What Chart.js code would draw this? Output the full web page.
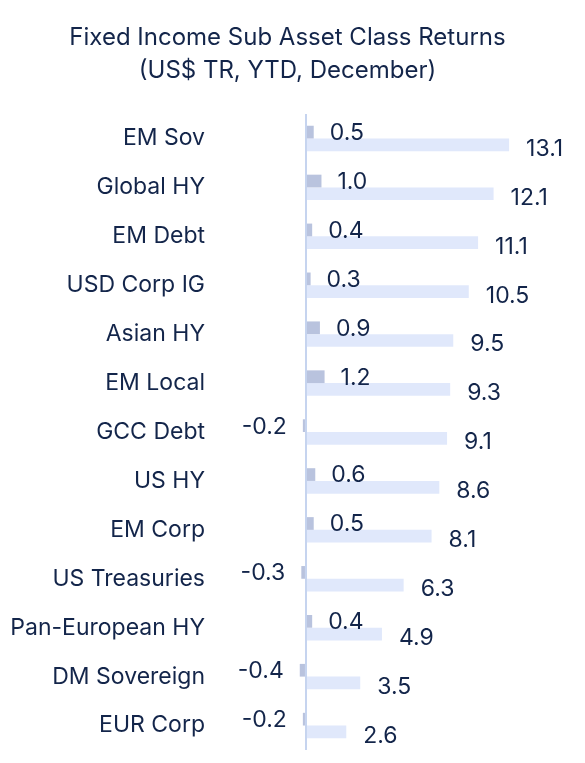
<!DOCTYPE html>
<html lang="en">
  <head>
    <meta charset="UTF-8" />
    <title>Fixed Income Sub Asset Class Returns</title>
    <script src="https://cdn.jsdelivr.net/npm/chart.js"></script>
    <style>
      html, body { margin: 0; padding: 0; background: #fff; }
      #chart-container { width: 585px; height: 763px; position: relative; }
    </style>
  </head>
  <body>
    <div id="chart-container">
      <canvas id="my-chart"></canvas>
    </div>

    <script>
      const categories = [
        "EM Sov", "Global HY", "EM Debt", "USD Corp IG", "Asian HY", "EM Local", "GCC Debt",
        "US HY", "EM Corp", "US Treasuries", "Pan-European HY", "DM Sovereign", "EUR Corp",
      ];
      const mtdValues = [0.5, 1.0, 0.4, 0.3, 0.9, 1.2, -0.2, 0.6, 0.5, -0.3, 0.4, -0.4, -0.2];
      const ytdValues = [13.1, 12.1, 11.1, 10.5, 9.5, 9.3, 9.1, 8.6, 8.1, 6.3, 4.9, 3.5, 2.6];

      const textColor = "#13254a";
      const fontFamily = "Inter, 'Open Sans', sans-serif";

      // draws the value next to each bar end
      const valueLabels = {
        id: "valueLabels",
        afterDatasetsDraw(chart) {
          const ctx = chart.ctx;
          ctx.save();
          ctx.font = "400 23px " + fontFamily;
          ctx.fillStyle = textColor;
          ctx.textBaseline = "middle";
          chart.data.datasets.forEach((ds, i) => {
            const meta = chart.getDatasetMeta(i);
            meta.data.forEach((bar, j) => {
              const v = ds.data[j];
              const gap = i === 0 ? 16 : 17;
              const dy = i === 0 ? 1 : 4;
              if (v < 0) {
                ctx.textAlign = "right";
                ctx.fillText(v.toFixed(1), bar.x - gap, bar.y + dy);
              } else {
                ctx.textAlign = "left";
                ctx.fillText(v.toFixed(1), bar.x + gap, bar.y + dy);
              }
            });
          });
          ctx.restore();
        },
      };

      const ctx = document.getElementById("my-chart").getContext("2d");
      const myChart = new Chart(ctx, {
        type: "bar",
        data: {
          labels: categories,
          datasets: [
            {
              label: "MTD",
              data: mtdValues,
              backgroundColor: "#b9c3de",
              barPercentage: 1,
              categoryPercentage: 0.52,
            },
            {
              label: "YTD",
              data: ytdValues,
              backgroundColor: "#e0e8fb",
              barPercentage: 1,
              categoryPercentage: 0.52,
            },
          ],
        },
        options: {
          indexAxis: "y",
          responsive: true,
          maintainAspectRatio: false,
          animation: false,
          layout: { padding: { top: 21, bottom: 13, right: 10, left: 0 } },
          plugins: {
            legend: { display: false },
            tooltip: { enabled: false },
            title: {
              display: true,
              text: ["Fixed Income Sub Asset Class Returns", "(US$ TR, YTD, December)"],
              color: textColor,
              font: { family: fontFamily, size: 24, weight: "400", lineHeight: 1.375 },
              padding: { top: 0, bottom: 27 },
            },
          },
          scales: {
            x: {
              min: -6.06,
              max: 17.35,
              border: { display: false },
              ticks: { display: false, stepSize: 1 },
              grid: {
                drawTicks: false,
                lineWidth: 2,
                color: (c) => (c.tick && c.tick.value === 0 ? "#c6d4ef" : "transparent"),
              },
            },
            y: {
              border: { display: false },
              grid: { display: false, drawTicks: false },
              ticks: {
                padding: 7,
                color: textColor,
                font: { family: fontFamily, size: 23, weight: "400" },
              },
              afterFit(scale) {
                scale.width = 212;
                scale.paddingTop = 0;
                scale.paddingBottom = 0;
              },
            },
          },
        },
        plugins: [valueLabels],
      });
    </script>
  </body>
</html>
